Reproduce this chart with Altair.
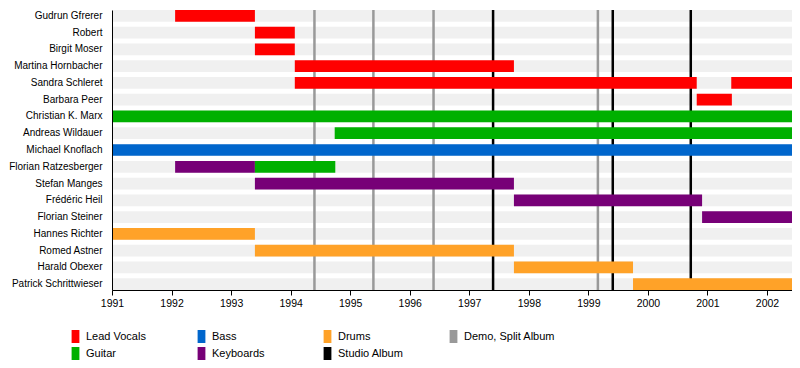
import altair as alt
import pandas as pd

members = ["Gudrun Gfrerer", "Robert", "Birgit Moser", "Martina Hornbacher",
           "Sandra Schleret", "Barbara Peer", "Christian K. Marx", "Andreas Wildauer",
           "Michael Knoflach", "Florian Ratzesberger", "Stefan Manges", "Frédéric Heil",
           "Florian Steiner", "Hannes Richter", "Romed Astner", "Harald Obexer",
           "Patrick Schrittwieser"]

START, END = 1991.0, 2002.42

bar_member = ["Gudrun Gfrerer", "Robert", "Birgit Moser", "Martina Hornbacher",
              "Sandra Schleret", "Sandra Schleret", "Barbara Peer",
              "Christian K. Marx", "Andreas Wildauer", "Michael Knoflach",
              "Florian Ratzesberger", "Florian Ratzesberger", "Stefan Manges",
              "Frédéric Heil", "Florian Steiner", "Hannes Richter", "Romed Astner",
              "Harald Obexer", "Patrick Schrittwieser"]
bar_start = [1992.06, 1993.40, 1993.40, 1994.07,
             1994.07, 2001.40, 2000.82,
             START, 1994.74, START,
             1992.06, 1993.40, 1993.40,
             1997.75, 2000.91, START, 1993.40,
             1997.75, 1999.75]
bar_end = [1993.40, 1994.07, 1994.07, 1997.75,
           2000.82, END, 2001.41,
           END, END, END,
           1993.40, 1994.75, 1997.75,
           2000.91, END, 1993.40, 1997.75,
           1999.75, END]
bar_role = ["Lead Vocals", "Lead Vocals", "Lead Vocals", "Lead Vocals",
            "Lead Vocals", "Lead Vocals", "Lead Vocals",
            "Guitar", "Guitar", "Bass",
            "Keyboards", "Guitar", "Keyboards",
            "Keyboards", "Keyboards", "Drums", "Drums",
            "Drums", "Drums"]

demo_years = [1994.40, 1995.39, 1996.40, 1999.16]
studio_years = [1997.40, 1999.41, 2000.72]

roles = ["Lead Vocals", "Guitar", "Bass", "Keyboards",
         "Drums", "Studio Album", "Demo, Split Album"]
role_colors = ["#ff0000", "#00b000", "#0066cc", "#770077",
               "#ffa228", "#000000", "#999999"]
year_ticks = list(range(1991, 2003))

bars_df = pd.DataFrame({"member": bar_member, "start": bar_start,
                        "end": bar_end, "role": bar_role})
bg_df = pd.DataFrame({"member": members, "start": [START] * len(members),
                      "end": [END] * len(members)})
lines_df = pd.DataFrame({
    "year": demo_years + studio_years,
    "role": ["Demo, Split Album"] * len(demo_years) + ["Studio Album"] * len(studio_years),
})

FONT = "Liberation Sans"

xscale = alt.Scale(domain=[START, END], nice=False, zero=False)
xaxis = alt.Axis(values=year_ticks, format="d", title=None, grid=False,
                 domainColor="black", tickColor="black", tickSize=5,
                 labelFont=FONT, labelFontSize=10.5, labelColor="black",
                 labelPadding=3, labelFlush=False, zindex=1)
yenc = alt.Y("member:N", sort=members,
             scale=alt.Scale(domain=members, paddingInner=0.3, paddingOuter=0),
             axis=alt.Axis(title=None, ticks=False, domainColor="black",
                           labelPadding=10, labelFont=FONT, labelFontSize=10,
                           labelColor="black", zindex=1))
color_scale = alt.Scale(domain=roles, range=role_colors)
legend = alt.Legend(title=None, orient="none", legendX=-43,
                    legendY=320, columns=4, gridAlign="all",
                    columnPadding=17, rowPadding=4,
                    symbolType="M-0.6,-1L0.6,-1L0.6,1L-0.6,1Z",
                    symbolSize=169, symbolStrokeWidth=0,
                    symbolOpacity=1, labelOffset=4,
                    labelFont="Liberation Sans Narrow, Liberation Sans",
                    labelFontSize=11, labelColor="black")

bands = alt.Chart(bg_df).mark_bar(color="#f0f0f0").encode(
    x=alt.X("start:Q", scale=xscale, axis=xaxis), x2="end:Q", y=yenc)

rules = alt.Chart(lines_df).mark_rule(strokeWidth=2.5).encode(
    x=alt.X("year:Q", scale=xscale, axis=xaxis),
    color=alt.Color("role:N", scale=color_scale, legend=legend))

bars = alt.Chart(bars_df).mark_bar().encode(
    x=alt.X("start:Q", scale=xscale, axis=xaxis), x2="end:Q", y=yenc,
    color=alt.Color("role:N", scale=color_scale, legend=legend))

chart = alt.layer(bands, rules, bars).properties(
    width=680, height=280, padding=0
).configure_view(stroke=None).configure_legend(
    symbolType="M-0.6,-1L0.6,-1L0.6,1L-0.6,1Z", symbolFillColor="black"
).resolve_scale(color="shared")

chart.save("out.html", embed_options={"renderer": "svg", "actions": False})
